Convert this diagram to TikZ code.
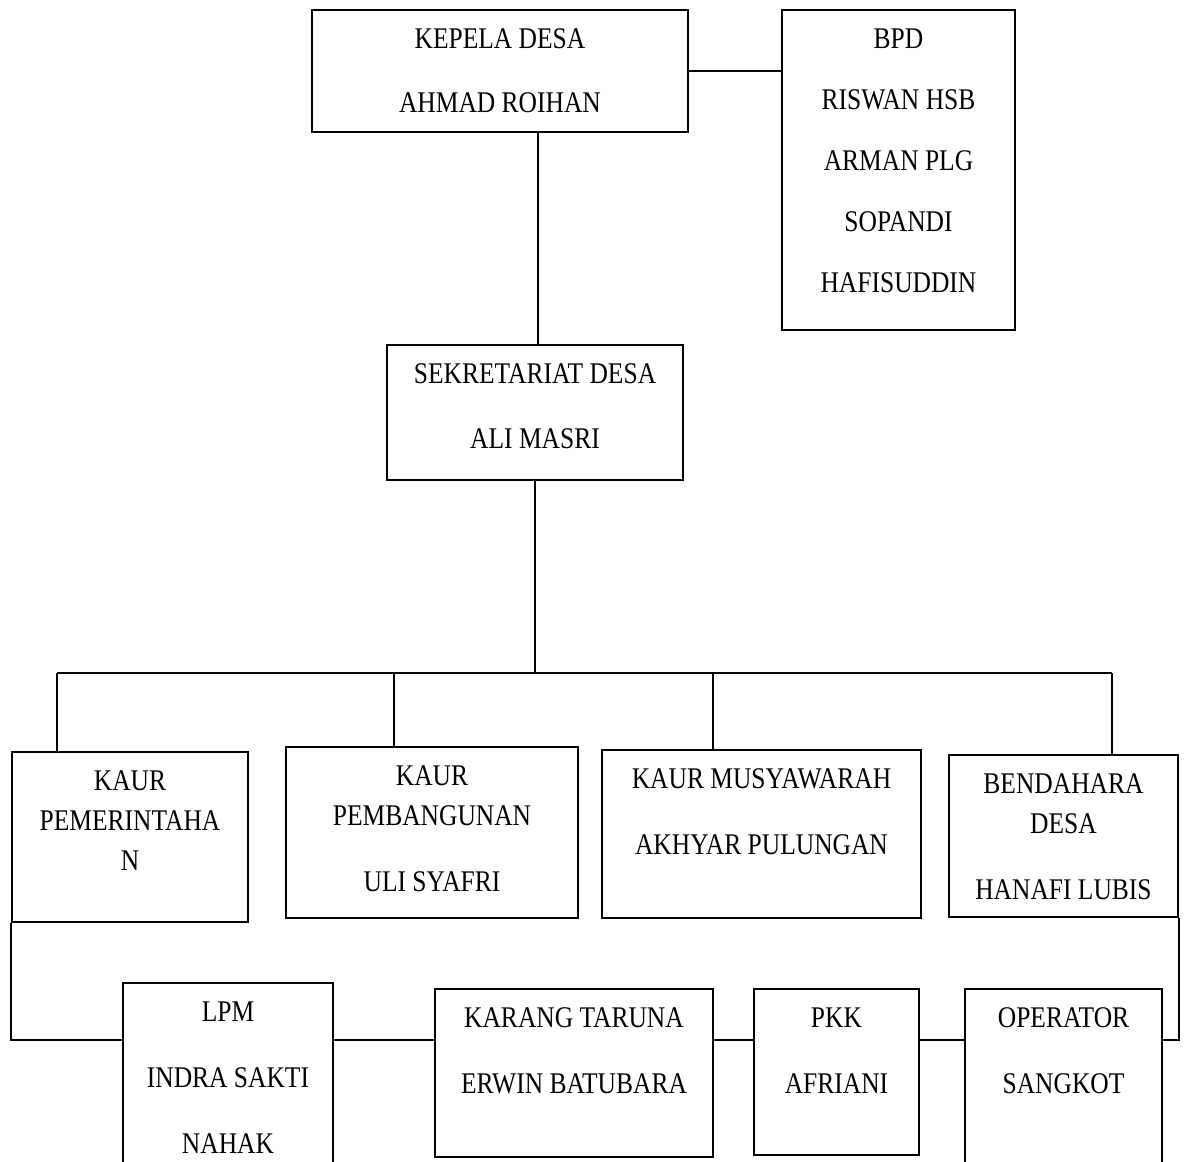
\documentclass[tikz,border=0pt]{standalone}
\usepackage{fontspec}
\setmainfont[FakeStretch=0.85]{Liberation Serif}
\newdimen\pxu \pxu=0.5pt
% box of given size (in px), text from the top
\newcommand{\orgbox}[3]{\parbox[c][#2\pxu][t]{#1\pxu}{\centering\rule{0pt}{19pt}#3}}
\tikzset{
  jabatan/.style={draw=black, line width=0.9pt, inner sep=0pt},
  garis/.style={draw=black, line width=0.8pt}
}
\begin{document}
\begin{tikzpicture}[x=0.5pt, y=-0.5pt, font=\fontsize{15pt}{20pt}\selectfont]
  \useasboundingbox (0,0) rectangle (1184,1162);

  \node[jabatan] (kades) at (500,71) {\orgbox{376}{122}{KEPELA DESA\\[12pt]AHMAD ROIHAN}};
  \node[jabatan] (bpd) at (898.5,170) {\orgbox{233}{320}{BPD\\[10.5pt]RISWAN HSB\\[10.5pt]ARMAN PLG\\[10.5pt]SOPANDI\\[10.5pt]HAFISUDDIN}};
  \node[jabatan] (sek) at (535,412.5) {\orgbox{296}{135}{SEKRETARIAT DESA\\[12.5pt]ALI MASRI}};

  \node[jabatan] (kpem) at (130,837) {\orgbox{236}{170}{KAUR\\PEMERINTAHA\\N}};
  \node[jabatan] (kbang) at (432,832.5) {\orgbox{292}{171}{KAUR\\PEMBANGUNAN\\[13pt]ULI SYAFRI}};
  \node[jabatan] (kmus) at (761.5,834) {\orgbox{319}{168}{KAUR MUSYAWARAH\\[13pt]AKHYAR PULUNGAN}};
  \node[jabatan] (bend) at (1063.5,836) {\orgbox{229}{162}{BENDAHARA\\DESA\\[13pt]HANAFI LUBIS}};

  \node[jabatan] (lpm) at (228,1086.5) {\orgbox{210}{207}{LPM\\[13pt]INDRA SAKTI\\[13pt]NAHAK}};
  \node[jabatan] (karang) at (574,1073) {\orgbox{278}{168}{KARANG TARUNA\\[13pt]ERWIN BATUBARA}};
  \node[jabatan] (pkk) at (836.5,1072) {\orgbox{165}{166}{PKK\\[13pt]AFRIANI}};
  \node[jabatan] (oper) at (1063.5,1089.5) {\orgbox{197}{201}{OPERATOR\\[13pt]SANGKOT}};

  \coordinate (drop1) at (538,132);
  \coordinate (busL) at (57,673);
  \coordinate (busR) at (1112,673);
  \coordinate (drop2) at (394,673);
  \coordinate (drop3) at (713,673);
  \coordinate (row) at (0,1040);

  \path[garis] (kades.east) -- (kades.east -| bpd.west);
  \path[garis] (drop1) -- (drop1 |- sek.north);
  \path[garis] (sek.south) -- (sek.south |- busL);
  \path[garis] (busL) -- (busR);
  \path[garis] (busL) -- (busL |- kpem.north);
  \path[garis] (drop2) -- (drop2 |- kbang.north);
  \path[garis] (drop3) -- (drop3 |- kmus.north);
  \path[garis] (busR) -- (busR |- bend.north);

  \path[garis] (kpem.south west) |- (row -| lpm.west);
  \path[garis] (lpm.east |- row) -- (karang.west |- row);
  \path[garis] (karang.east |- row) -- (pkk.west |- row);
  \path[garis] (pkk.east |- row) -- (oper.west |- row);
  \path[garis] (bend.south east) |- (oper.east |- row);
\end{tikzpicture}
\end{document}
